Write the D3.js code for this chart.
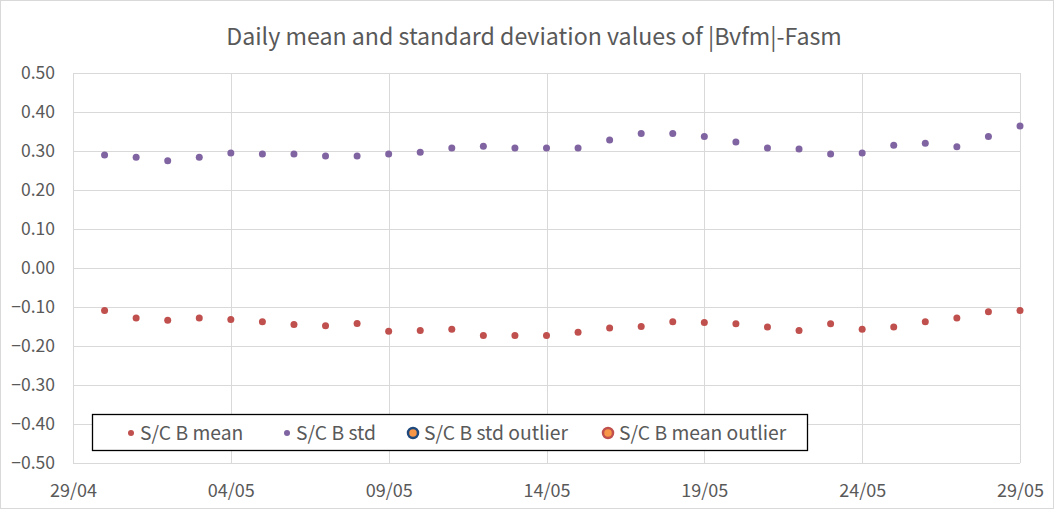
<!DOCTYPE html>
<html>
<head>
<meta charset="utf-8">
<script src="https://cdn.jsdelivr.net/npm/d3@7"></script>
<style>
  body { margin: 0; background: #fff; }
  text { font-family: "Noto Sans CJK KR", "Noto Sans", sans-serif; fill: #595959; }
</style>
</head>
<body>
<svg id="chart" width="1054" height="509"></svg>
<script>
// day labels (dd/mm), one point per day
const days = ["30/04","01/05","02/05","03/05","04/05","05/05","06/05","07/05","08/05","09/05",
              "10/05","11/05","12/05","13/05","14/05","15/05","16/05","17/05","18/05","19/05",
              "20/05","21/05","22/05","23/05","24/05","25/05","26/05","27/05","28/05","29/05"];

const stdValues = [0.290,0.284,0.275,0.284,0.295,0.292,0.292,0.287,0.287,0.292,
                   0.297,0.308,0.312,0.308,0.308,0.308,0.328,0.345,0.345,0.337,
                   0.323,0.308,0.305,0.292,0.295,0.315,0.320,0.311,0.337,0.364];

const meanValues = [-0.109,-0.128,-0.134,-0.128,-0.132,-0.138,-0.145,-0.148,-0.142,-0.162,
                    -0.160,-0.157,-0.173,-0.173,-0.173,-0.165,-0.154,-0.150,-0.138,-0.140,
                    -0.143,-0.151,-0.160,-0.143,-0.157,-0.151,-0.138,-0.128,-0.112,-0.109];

const xTicks = ["29/04","04/05","09/05","14/05","19/05","24/05","29/05"];
const yTicks = [0.5,0.4,0.3,0.2,0.1,0,-0.1,-0.2,-0.3,-0.4,-0.5];

const legendItems = [
  { label: "S/C B mean", fill: "#C0504D", stroke: "none", r: 3 },
  { label: "S/C B std", fill: "#8064A2", stroke: "none", r: 3 },
  { label: "S/C B std outlier", fill: "#F79646", stroke: "#1F497D", r: 5 },
  { label: "S/C B mean outlier", fill: "#F79646", stroke: "#C0504D", r: 5 }
];

const parseDay = s => { const [d, m] = s.split("/"); return new Date(2021, +m - 1, +d); };

const svg = d3.select("#chart");
const width = +svg.attr("width");
const height = +svg.attr("height");
const margin = { top: 73, right: 34, bottom: 46, left: 73 };

// outer chart border
svg.append("rect")
  .attr("x", 0.5).attr("y", 0.5)
  .attr("width", width - 1).attr("height", height - 1)
  .attr("fill", "#fff").attr("stroke", "#d9d9d9");

const x = d3.scaleTime()
  .domain([parseDay("29/04"), parseDay("29/05")])
  .range([margin.left, width - margin.right]);
const y = d3.scaleLinear()
  .domain([-0.5, 0.5])
  .range([height - margin.bottom, margin.top]);

// gridlines
svg.append("g")
  .selectAll("line")
  .data(yTicks)
  .join("line")
  .attr("x1", margin.left).attr("x2", width - margin.right)
  .attr("y1", d => Math.round(y(d)) + 0.5).attr("y2", d => Math.round(y(d)) + 0.5)
  .attr("stroke", "#d9d9d9");

svg.append("g")
  .selectAll("line")
  .data(xTicks)
  .join("line")
  .attr("x1", d => Math.round(x(parseDay(d))) + 0.5).attr("x2", d => Math.round(x(parseDay(d))) + 0.5)
  .attr("y1", margin.top).attr("y2", height - margin.bottom)
  .attr("stroke", "#d9d9d9");

// y axis labels
const yAxis = d3.axisLeft(y).tickValues(yTicks).tickFormat(d3.format(".2f")).tickSize(0).tickPadding(18);
svg.append("g")
  .attr("transform", `translate(${margin.left},0)`)
  .call(yAxis)
  .call(g => g.select(".domain").remove())
  .call(g => g.selectAll("text").attr("font-size", 17.5).style("font-family", null).attr("fill", null));

// x axis labels
const xAxis = d3.axisBottom(x).tickValues(xTicks.map(parseDay)).tickFormat(d3.timeFormat("%d/%m")).tickSize(0).tickPadding(21);
svg.append("g")
  .attr("transform", `translate(0,${height - margin.bottom})`)
  .call(xAxis)
  .call(g => g.select(".domain").remove())
  .call(g => g.selectAll("text").attr("font-size", 18).style("font-family", null).attr("fill", null));

// series
svg.append("g")
  .selectAll("circle")
  .data(stdValues)
  .join("circle")
  .attr("cx", (d, i) => x(parseDay(days[i])))
  .attr("cy", d => y(d))
  .attr("r", 3.5)
  .attr("fill", "#8064A2");

svg.append("g")
  .selectAll("circle")
  .data(meanValues)
  .join("circle")
  .attr("cx", (d, i) => x(parseDay(days[i])))
  .attr("cy", d => y(d))
  .attr("r", 3.5)
  .attr("fill", "#C0504D");

// title
svg.append("text")
  .attr("x", 534).attr("y", 45)
  .attr("text-anchor", "middle")
  .attr("font-size", 23.2)
  .text("Daily mean and standard deviation values of |Bvfm|-Fasm");

// legend
const legend = svg.append("g").attr("transform", "translate(92,414)");
legend.append("rect")
  .attr("x", 0.5).attr("y", 0.5).attr("width", 715).attr("height", 36)
  .attr("fill", "#fff").attr("stroke", "#000").attr("stroke-width", 1.3);

const legendX = [39, 195, 321, 516];
legendItems.forEach((item, i) => {
  const g = legend.append("g").attr("transform", `translate(${legendX[i]},19)`);
  g.append("circle")
    .attr("r", item.r)
    .attr("fill", item.fill)
    .attr("stroke", item.stroke)
    .attr("stroke-width", item.stroke === "none" ? 0 : 2.5);
  g.append("text")
    .attr("x", item.r + 6).attr("y", 6.5)
    .attr("font-size", 19.3)
    .attr("fill", "#333")
    .text(item.label);
});
</script>
</body>
</html>
